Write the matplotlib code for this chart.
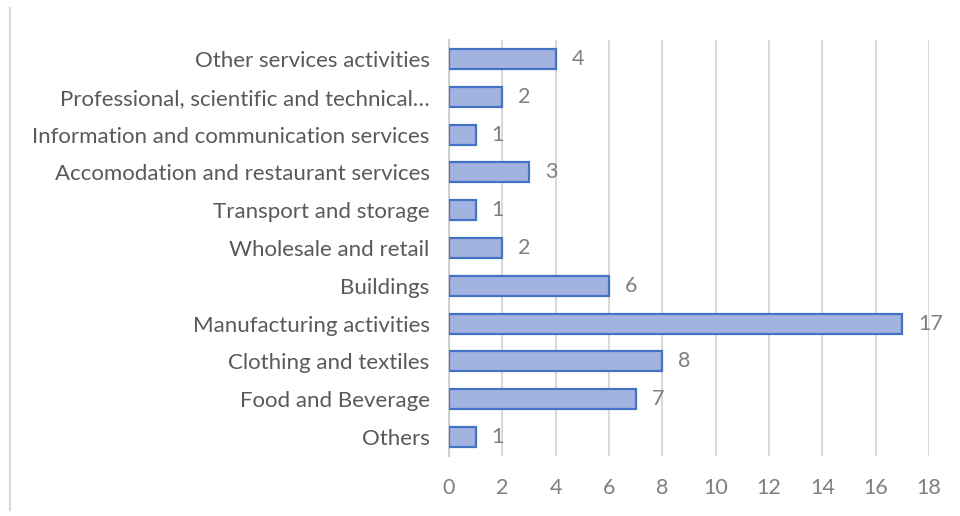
import matplotlib.pyplot as plt
from matplotlib.lines import Line2D

# categories from bottom to top
categorias = ["Others", "Food and Beverage", "Clothing and textiles",
              "Manufacturing activities", "Buildings", "Wholesale and retail",
              "Transport and storage", "Accomodation and restaurant services",
              "Information and communication services",
              "Professional, scientific and technical…",
              "Other services activities"]
valores = [1, 7, 8, 17, 6, 2, 1, 3, 1, 2, 4]
ticks_x = [0, 2, 4, 6, 8, 10, 12, 14, 16, 18]

plt.rcParams['font.family'] = ['Lato', 'DejaVu Sans']

fig = plt.figure(figsize=(9.6, 5.16), dpi=100)
ax = fig.add_axes([0.4677, 0.1163, 0.5, 0.8062])

y = range(len(categorias))
ax.barh(y, valores, height=0.53, color="#a3b3df", edgecolor="#4472c4", linewidth=1.6, zorder=3)
for i, v in zip(y, valores):
    ax.text(v + 0.6, i, str(v), va="center", ha="left", fontsize=15.5, color="#7f7f7f")

ax.set_xlim(0, 18)
ax.set_ylim(-0.5, len(categorias) - 0.5)
ax.set_xticks(ticks_x)
ax.set_xticklabels([str(t) for t in ticks_x])
ax.set_yticks(list(y))
ax.set_yticklabels(categorias)
ax.tick_params(axis="x", length=0, labelsize=15.5, labelcolor="#7f7f7f", pad=16)
ax.tick_params(axis="y", length=0, labelsize=16, labelcolor="#595959", pad=14)
ax.grid(axis="x", color="#d9d9d9", linewidth=1.5, zorder=0)
ax.set_axisbelow(True)
for s in ["top", "right", "bottom"]:
    ax.spines[s].set_visible(False)
ax.spines["left"].set_color("#d0d0d0")
ax.spines["left"].set_linewidth(1.5)

# left border of the chart area
fig.add_artist(Line2D([10 / 960, 10 / 960], [1 - 8 / 516, 1 - 510 / 516], color="#d9d9d9", linewidth=1.5))

fig.savefig("out.png", dpi=100)
